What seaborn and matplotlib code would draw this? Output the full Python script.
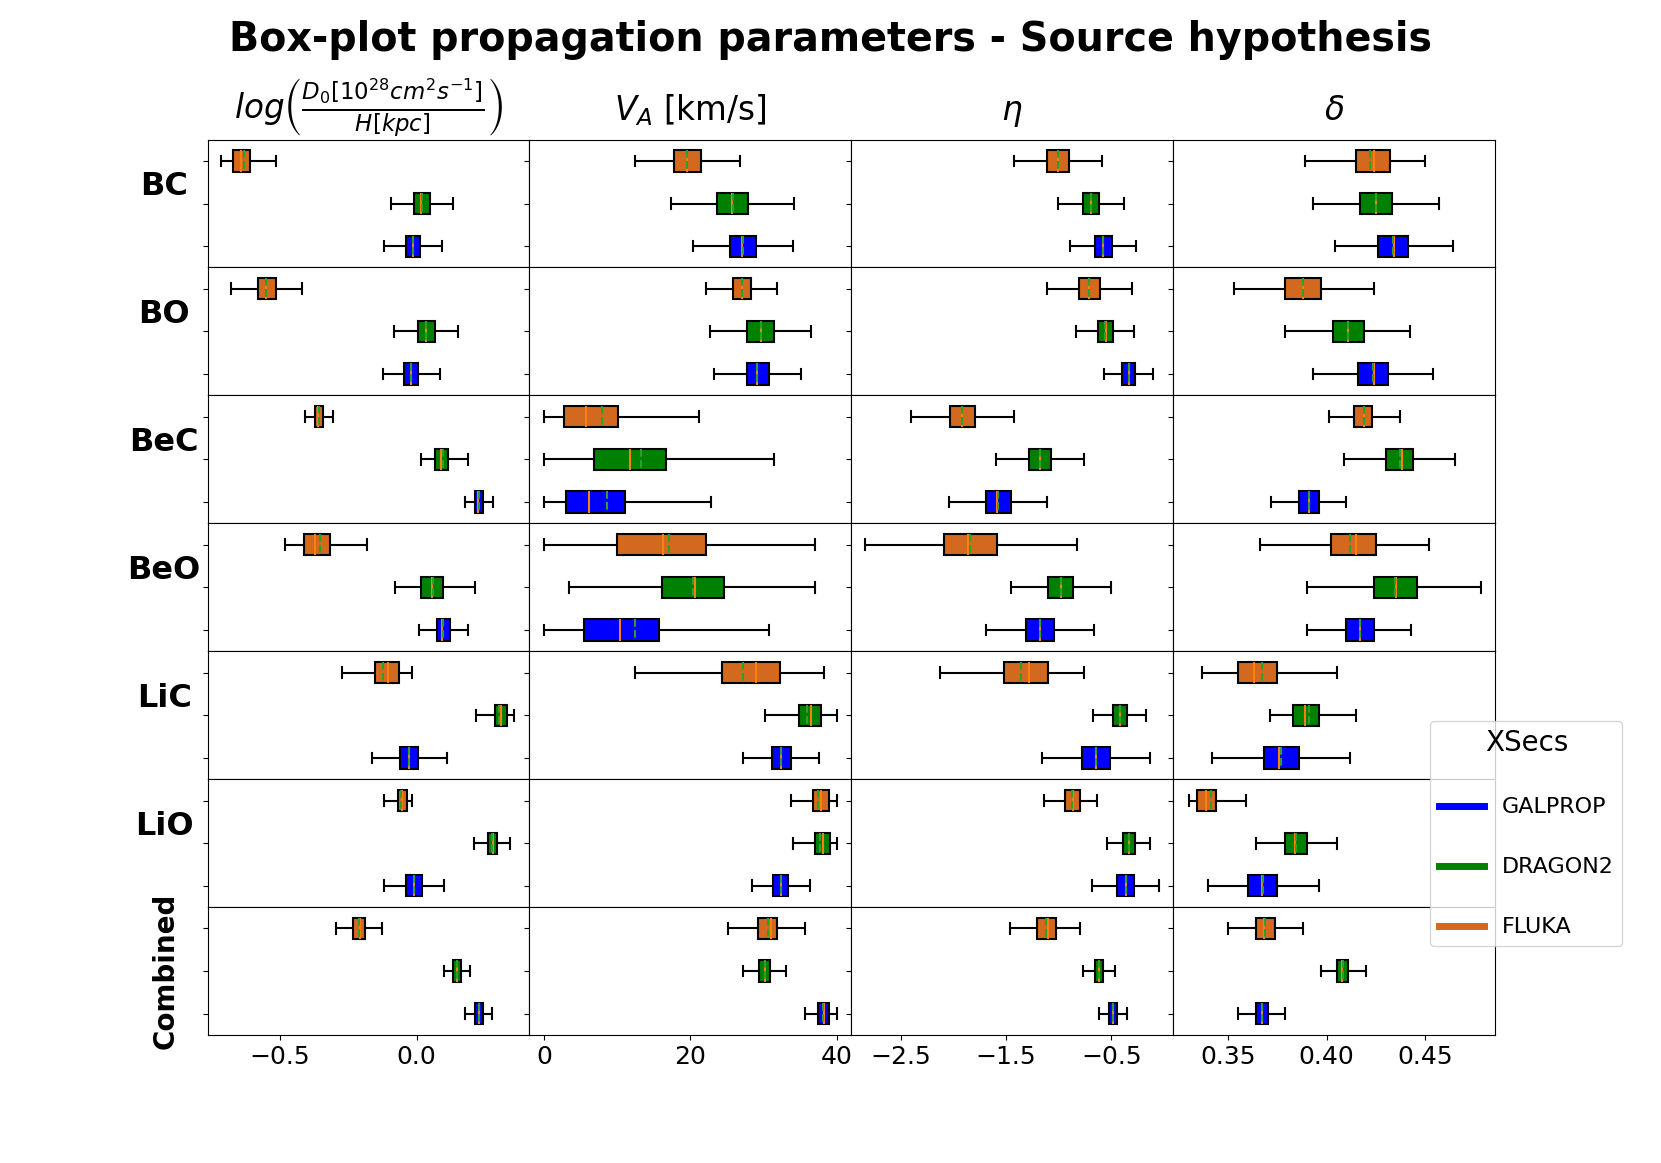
import numpy as np
import pandas as pd
import seaborn as sns
import matplotlib.pyplot as plt
from matplotlib.lines import Line2D

# rows of the grid (ratios) and the three cross-section sets
rows = ['BC', 'BO', 'BeC', 'BeO', 'LiC', 'LiO', 'Combined']
xsecs = ['FLUKA', 'DRAGON2', 'GALPROP']
colors = {'GALPROP': 'blue', 'DRAGON2': 'green', 'FLUKA': 'chocolate'}

# every box: whisker low, q1, median, q3, whisker high
# log(D0/H)
d0_fluka = [[-0.717, -0.672, -0.643, -0.610, -0.516],
            [-0.680, -0.583, -0.551, -0.517, -0.421],
            [-0.410, -0.372, -0.362, -0.344, -0.307],
            [-0.484, -0.412, -0.372, -0.318, -0.183],
            [-0.275, -0.151, -0.103, -0.066, -0.017],
            [-0.120, -0.069, -0.052, -0.034, -0.017],
            [-0.295, -0.232, -0.209, -0.189, -0.126]]
d0_dragon2 = [[-0.092, -0.008, 0.018, 0.050, 0.135],
              [-0.082, 0.006, 0.033, 0.066, 0.152],
              [0.015, 0.069, 0.089, 0.116, 0.188],
              [-0.079, 0.017, 0.057, 0.098, 0.216],
              [0.218, 0.287, 0.311, 0.333, 0.359],
              [0.210, 0.261, 0.279, 0.296, 0.343],
              [0.101, 0.135, 0.147, 0.162, 0.196]]
d0_galprop = [[-0.120, -0.040, -0.014, 0.014, 0.092],
              [-0.123, -0.046, -0.020, 0.007, 0.086],
              [0.179, 0.216, 0.227, 0.244, 0.281],
              [0.010, 0.075, 0.093, 0.122, 0.188],
              [-0.163, -0.062, -0.028, 0.007, 0.110],
              [-0.120, -0.037, -0.008, 0.020, 0.101],
              [0.178, 0.215, 0.228, 0.242, 0.276]]

# V_A [km/s]
va_fluka = [[12.4, 17.7, 19.5, 21.4, 26.8],
            [22.2, 25.8, 27.0, 28.3, 31.9],
            [0.0, 2.7, 5.8, 10.1, 21.2],
            [0.0, 10.0, 16.3, 22.1, 37.1],
            [12.5, 24.3, 29.0, 32.2, 38.3],
            [33.8, 36.8, 37.9, 38.9, 40.0],
            [25.2, 29.2, 31.0, 31.9, 35.7]]
va_dragon2 = [[17.4, 23.7, 25.7, 27.9, 34.2],
              [22.7, 27.8, 29.6, 31.4, 36.5],
              [0.0, 6.8, 11.7, 16.7, 31.4],
              [3.4, 16.1, 20.7, 24.6, 37.1],
              [30.2, 34.8, 36.5, 37.9, 40.0],
              [34.1, 37.1, 38.2, 39.1, 40.0],
              [27.2, 29.4, 30.2, 30.9, 33.1]]
va_galprop = [[20.3, 25.4, 27.1, 29.0, 34.1],
              [23.3, 27.7, 29.1, 30.7, 35.1],
              [0.0, 3.0, 6.2, 11.0, 22.8],
              [0.0, 5.5, 10.4, 15.7, 30.8],
              [27.2, 31.1, 32.4, 33.8, 37.6],
              [28.4, 31.3, 32.4, 33.4, 36.3],
              [35.7, 37.5, 38.3, 38.9, 40.0]]

# eta
eta_fluka = [[-1.429, -1.114, -1.006, -0.899, -0.584],
             [-1.110, -0.811, -0.708, -0.604, -0.305],
             [-2.404, -2.038, -1.922, -1.795, -1.429],
             [-2.839, -2.094, -1.859, -1.584, -0.827],
             [-2.130, -1.520, -1.281, -1.102, -0.763],
             [-1.142, -0.943, -0.867, -0.799, -0.636],
             [-1.465, -1.206, -1.106, -1.022, -0.799]]
eta_dragon2 = [[-1.002, -0.771, -0.692, -0.612, -0.377],
               [-0.835, -0.628, -0.552, -0.485, -0.281],
               [-1.596, -1.285, -1.182, -1.070, -0.755],
               [-1.452, -1.102, -0.978, -0.859, -0.505],
               [-0.676, -0.485, -0.413, -0.349, -0.166],
               [-0.536, -0.389, -0.329, -0.278, -0.126],
               [-0.771, -0.656, -0.616, -0.576, -0.461]]
eta_galprop = [[-0.891, -0.656, -0.576, -0.497, -0.262],
               [-0.564, -0.393, -0.333, -0.274, -0.102],
               [-2.046, -1.695, -1.584, -1.456, -1.110],
               [-1.691, -1.309, -1.178, -1.042, -0.660],
               [-1.158, -0.775, -0.640, -0.513, -0.130],
               [-0.680, -0.445, -0.357, -0.281, -0.046],
               [-0.620, -0.525, -0.485, -0.445, -0.349]]

# delta
delta_fluka = [[0.389, 0.415, 0.424, 0.432, 0.450],
               [0.353, 0.379, 0.388, 0.397, 0.424],
               [0.401, 0.414, 0.419, 0.423, 0.437],
               [0.366, 0.402, 0.415, 0.425, 0.452],
               [0.337, 0.355, 0.363, 0.375, 0.405],
               [0.330, 0.334, 0.339, 0.344, 0.359],
               [0.350, 0.364, 0.368, 0.374, 0.388]]
delta_dragon2 = [[0.393, 0.417, 0.425, 0.433, 0.457],
                 [0.379, 0.403, 0.411, 0.419, 0.442],
                 [0.409, 0.430, 0.438, 0.444, 0.465],
                 [0.390, 0.424, 0.435, 0.446, 0.478],
                 [0.371, 0.383, 0.389, 0.396, 0.415],
                 [0.364, 0.379, 0.384, 0.390, 0.405],
                 [0.397, 0.405, 0.408, 0.411, 0.420]]
delta_galprop = [[0.404, 0.426, 0.434, 0.441, 0.464],
                 [0.393, 0.416, 0.424, 0.431, 0.454],
                 [0.372, 0.386, 0.391, 0.396, 0.410],
                 [0.390, 0.410, 0.417, 0.424, 0.443],
                 [0.342, 0.368, 0.376, 0.386, 0.412],
                 [0.340, 0.360, 0.367, 0.375, 0.396],
                 [0.355, 0.364, 0.367, 0.370, 0.379]]

titles = [r'$log\left(\frac{D_0[10^{28}cm^2s^{-1}]}{H[kpc]}\right)$',
          r'$V_A$ [km/s]', r'$\eta$', r'$\delta$']
xlims = [(-0.766, 0.414), (-2, 42), (-2.974, 0.089), (0.3221, 0.4853)]
xticks = [[-0.5, 0.0], [0, 20, 40], [-2.5, -1.5, -0.5], [0.35, 0.40, 0.45]]

params = [(d0_fluka, d0_dragon2, d0_galprop),
          (va_fluka, va_dragon2, va_galprop),
          (eta_fluka, eta_dragon2, eta_galprop),
          (delta_fluka, delta_dragon2, delta_galprop)]

fig, axes = plt.subplots(7, 4, figsize=(16.61, 11.63), dpi=100, sharex='col')
plt.subplots_adjust(wspace=0, hspace=0)

for j, (fl, dr, ga) in enumerate(params):
    for i, name in enumerate(rows):
        ax = axes[i, j]
        df = pd.DataFrame({'XSecs': np.repeat(xsecs, 5),
                           'value': np.concatenate([fl[i], dr[i], ga[i]])})
        sns.boxplot(data=df, x='value', y='XSecs', hue='XSecs', order=xsecs,
                    hue_order=xsecs, palette=colors, saturation=1, width=0.5,
                    whis=(0, 100), showmeans=True, meanline=True,
                    linecolor='black', linewidth=1.5, fliersize=0, legend=False,
                    medianprops=dict(color='#ff7f0e', linewidth=1.5),
                    meanprops=dict(color='#2ca02c', linestyle='--', linewidth=1.5),
                    ax=ax)
        ax.set_xlabel('')
        ax.set_ylabel('')
        ax.tick_params(axis='y', labelleft=False)
        ax.set_xlim(xlims[j])
        ax.set_xticks(xticks[j])
        ax.tick_params(axis='x', labelsize=18)
        if i == 0:
            ax.set_title(titles[j], fontsize=23.5, pad=14)
        if j == 0:
            if name == 'Combined':
                ax.set_ylabel(name, fontsize=20, fontweight='bold', rotation=90,
                              ha='center', va='center')
                ax.yaxis.set_label_coords(-0.132, 0.5)
            else:
                ax.set_ylabel(name, fontsize=23, fontweight='bold', rotation=0,
                              ha='center', va='center')
                ax.yaxis.set_label_coords(-0.135, 0.63)

fig.suptitle('Box-plot propagation parameters - Source hypothesis',
             fontsize=28.5, fontweight='bold', y=0.966, va='center')

leg_names = ['GALPROP', 'DRAGON2', 'FLUKA']
handles = [Line2D([0], [0], color=colors[n], lw=5) for n in leg_names]
fig.legend(handles, leg_names, title='XSecs', loc='upper left',
           bbox_to_anchor=(0.8545, 0.39), fontsize=16, title_fontsize=20,
           labelspacing=1.8, handlelength=2.0)

plt.savefig('out.png', dpi=100)
